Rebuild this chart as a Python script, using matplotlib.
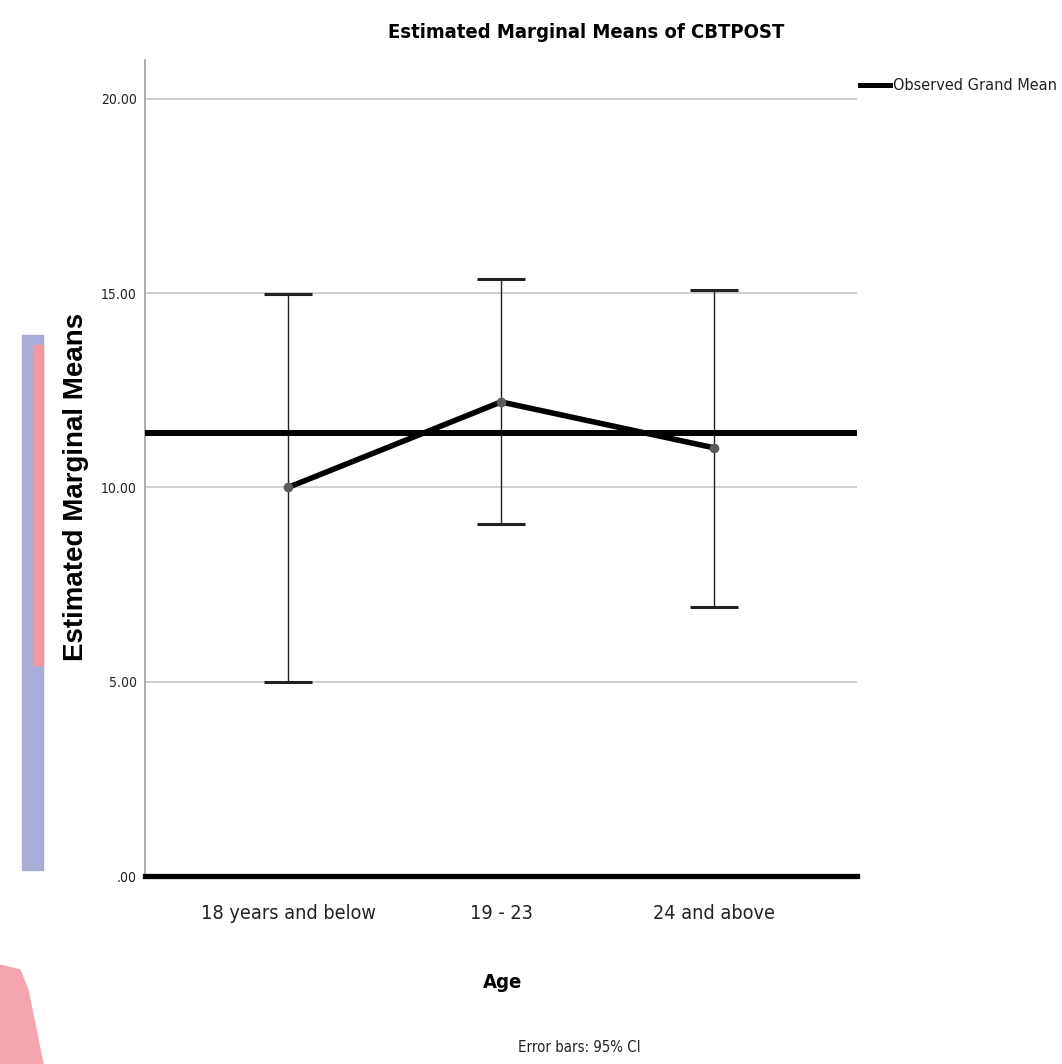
import numpy as np
import matplotlib.pyplot as plt
from matplotlib.patches import Rectangle, Polygon
from matplotlib.lines import Line2D

# =========================
# Data
# =========================
age_groups = ["18 years and below", "19 - 23", "24 and above"]
means = [10.00, 12.20, 11.02]
ci_low = [4.99, 9.06, 6.92]
ci_high = [14.98, 15.37, 15.08]
grand_mean = 11.40
y_ticks = [0, 5, 10, 15, 20]
y_tick_labels = [".00", "5.00", "10.00", "15.00", "20.00"]

narrow = dict(family="DejaVu Sans", fontstretch="condensed")
plain = ["Liberation Sans", "DejaVu Sans"]

# =========================
# Plot
# =========================
fig = plt.figure(figsize=(10.62, 10.64), dpi=100)

# faint watermark on the page behind the chart
fig.patches.append(Rectangle((22 / 1062, 1 - 870 / 1064), 21 / 1062, 535 / 1064,
                             transform=fig.transFigure, color="#a9acd6", zorder=0))
fig.patches.append(Rectangle((33 / 1062, 1 - 665 / 1064), 10 / 1062, 320 / 1064,
                             transform=fig.transFigure, color="#f09aa0", zorder=0))
fig.patches.append(Polygon([(0, 1 - 965 / 1064), (20 / 1062, 1 - 970 / 1064),
                            (28 / 1062, 1 - 990 / 1064), (43 / 1062, 1 - 1064 / 1064),
                            (0, 0)],
                           transform=fig.transFigure, color="#f3a6b0", zorder=0))

ax = fig.add_axes([145 / 1062, 1 - 876 / 1064, 712 / 1062, 816 / 1064])
x = np.arange(len(age_groups))

ax.set_xlim(-0.672, 2.672)
ax.set_ylim(0, 21)

for t in y_ticks[1:]:
    ax.axhline(t, color="#c8c8c8", lw=1.2, zorder=1)

ax.axhline(grand_mean, color="black", lw=4.3, zorder=3)

m = np.array(means)
yerr = [m - np.array(ci_low), np.array(ci_high) - m]
ax.errorbar(x, m, yerr=yerr, fmt="none", ecolor="#222222", elinewidth=1.0,
            capsize=17, capthick=2.2, zorder=2)
ax.plot(x, m, color="black", lw=4, zorder=4, solid_capstyle="butt")
ax.plot(x, m, "o", color="#5a5a5a", ms=7, zorder=5, markeredgewidth=0)

ax.spines["top"].set_visible(False)
ax.spines["right"].set_visible(False)
ax.spines["left"].set_color("#a0a0a0")
ax.spines["left"].set_linewidth(1.2)
ax.spines["bottom"].set_color("black")
ax.spines["bottom"].set_linewidth(3.8)

ax.set_yticks(y_ticks)
ax.set_yticklabels(y_tick_labels, fontsize=10, color="#222222", **narrow)
ax.set_xticks(x)
ax.set_xticklabels(age_groups, fontsize=14.2, color="#222222", **narrow)
ax.tick_params(axis="both", length=0)
ax.tick_params(axis="y", pad=6)
ax.tick_params(axis="x", pad=20)

fig.text(586 / 1062, 1 - 32 / 1064, "Estimated Marginal Means of CBTPOST",
         ha="center", va="center", fontweight="bold", fontsize=14.5, **narrow)
fig.text(503 / 1062, 1 - 983 / 1064, "Age", ha="center", va="center",
         fontweight="bold", fontsize=14.5, **narrow)
fig.text(76 / 1062, 1 - 487 / 1064, "Estimated Marginal Means", ha="center", va="center",
         rotation=90, family=plain, fontweight="bold", fontsize=20)
fig.text(579 / 1062, 1 - 1048 / 1064, "Error bars: 95% CI", ha="center", va="center",
         fontsize=10.7, color="#222222", **narrow)

# legend outside the plot
fig.lines.append(Line2D([860 / 1062, 890 / 1062], [1 - 85 / 1064, 1 - 85 / 1064],
                        transform=fig.transFigure, color="black", lw=3.6))
fig.text(893 / 1062, 1 - 85 / 1064, "Observed Grand Mean", ha="left", va="center",
         fontsize=11.6, color="#222222", **narrow)

plt.savefig("out.png", dpi=100)
plt.close()
